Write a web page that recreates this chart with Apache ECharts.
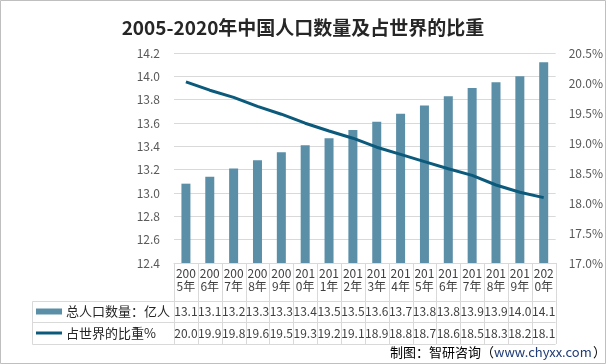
<!DOCTYPE html>
<html>
<head>
<meta charset="utf-8">
<script src="https://cdn.jsdelivr.net/npm/echarts@6/dist/echarts.min.js"></script>
<style>
html,body{margin:0;padding:0;background:#fff;}
#c{width:606px;height:364px;}
</style>
</head>
<body>
<div id="c"></div>
<script>
var years = ['2005年','2006年','2007年','2008年','2009年','2010年','2011年','2012年','2013年','2014年','2015年','2016年','2017年','2018年','2019年','2020年'];
var population = [13.08,13.14,13.21,13.28,13.35,13.41,13.47,13.54,13.61,13.68,13.75,13.83,13.90,13.95,14.00,14.12];
var worldShare = [20.02,19.88,19.76,19.61,19.48,19.33,19.20,19.08,18.93,18.81,18.69,18.57,18.46,18.30,18.18,18.09];
var seriesNames = ['总人口数量：亿人','占世界的比重%'];
var leftTicks = {min:12.4,max:14.2,interval:0.2};
var rightTicks = {min:17.0,max:20.5,interval:0.5};

var FONT = '"Noto Sans CJK SC","Noto Sans",sans-serif';
var barColor = '#5b8fa7';
var lineColor = '#0b5a7c';
var gridColor = '#d9d9d9';
var txt = '#404040';

var chart = echarts.init(document.getElementById('c'), null, {renderer:'canvas'});
var G = {left:174, right:46, top:53, bottom:101};

function rowAxis(values, offset){
  return {
    type:'category', data:years, gridIndex:0, position:'bottom', offset:offset,
    axisLine:{show:false}, axisTick:{show:false}, splitLine:{show:false},
    axisLabel:{interval:0, margin:0, fontSize:12, lineHeight:14, color:txt, fontFamily:FONT,
      formatter:function(v,i){return values[i].toFixed(1);}}
  };
}

chart.setOption({
  animation:false,
  textStyle:{fontFamily:FONT},
  title:{text:'2005-2020年中国人口数量及占世界的比重', left:'center', top:13,
    textStyle:{fontSize:19, fontWeight:'bold', color:'#262626', fontFamily:FONT}},
  grid:G,
  xAxis:[
    {type:'category', data:years, gridIndex:0,
     axisLine:{show:true, lineStyle:{color:gridColor}}, axisTick:{show:false},
     axisLabel:{interval:0, margin:4, fontSize:12, lineHeight:13, color:txt, fontFamily:FONT,
       formatter:function(v){return v.slice(0,3)+'\n'+v.slice(3);}}},
    rowAxis(population, 41),
    rowAxis(worldShare, 63)
  ],
  yAxis:[
    {type:'value', min:leftTicks.min, max:leftTicks.max, interval:leftTicks.interval,
     axisLine:{show:false}, axisTick:{show:false},
     splitLine:{lineStyle:{color:gridColor}},
     axisLabel:{margin:14, fontSize:12, color:'#595959', fontFamily:FONT,
       formatter:function(v){return v.toFixed(1);}}},
    {type:'value', min:rightTicks.min, max:rightTicks.max, interval:rightTicks.interval,
     axisLine:{show:false}, axisTick:{show:false}, splitLine:{show:false},
     axisLabel:{margin:13, fontSize:12, color:'#595959', fontFamily:FONT,
       formatter:function(v){return v.toFixed(1)+'%';}}}
  ],
  series:[
    {name:seriesNames[0], type:'bar', data:population, barWidth:9, yAxisIndex:0,
     itemStyle:{color:barColor}},
    {name:seriesNames[1], type:'line', data:worldShare, yAxisIndex:1, symbol:'none',
     lineStyle:{width:3, color:lineColor}, itemStyle:{color:lineColor}}
  ]
});

// table grid lines & legend built from axis positions
var x0 = chart.convertToPixel({xAxisIndex:0}, years[0]);
var x1 = chart.convertToPixel({xAxisIndex:0}, years[1]);
var step = x1 - x0;
var left = x0 - step/2;
var right = left + step*years.length;
var axisY = chart.convertToPixel({yAxisIndex:0}, leftTicks.min);
var rowTop1 = axisY + 38, rowTop2 = axisY + 59, rowBot = axisY + 81;
var legLeft = 32;
var els = [];
var ls = {stroke:gridColor, lineWidth:1};
for (var i=0;i<=years.length;i++){
  var xx = Math.round(left + step*i) + 0.5;
  els.push({type:'line', shape:{x1:xx,y1:axisY,x2:xx,y2:rowBot}, style:ls, silent:true});
}
[rowTop1,rowTop2,rowBot].forEach(function(yy){
  yy = Math.round(yy)+0.5;
  els.push({type:'line', shape:{x1:legLeft+0.5,y1:yy,x2:right,y2:yy}, style:ls, silent:true});
});
els.push({type:'line', shape:{x1:legLeft+0.5,y1:Math.round(rowTop1)+0.5,x2:legLeft+0.5,y2:Math.round(rowBot)+0.5}, style:ls, silent:true});
// legend keys
els.push({type:'rect', shape:{x:36,y:(rowTop1+rowTop2)/2-3,width:26,height:6}, style:{fill:barColor}, silent:true});
els.push({type:'rect', shape:{x:36,y:(rowTop2+rowBot)/2-1.5,width:26,height:3}, style:{fill:lineColor}, silent:true});
els.push({type:'text', x:66, y:(rowTop1+rowTop2)/2, style:{text:seriesNames[0], fontSize:13, fill:'#262626', fontFamily:FONT, verticalAlign:'middle'}, silent:true});
els.push({type:'text', x:66, y:(rowTop2+rowBot)/2, style:{text:seriesNames[1], fontSize:13, fill:'#262626', fontFamily:FONT, verticalAlign:'middle'}, silent:true});
// footer
els.push({type:'text', x:390, y:352, style:{text:'制图：智研咨询（', fontSize:13, fill:'#000', fontFamily:FONT, verticalAlign:'middle'}, silent:true});
els.push({type:'text', x:494, y:352, style:{text:'www.chyxx.com', fontSize:13, fill:'#1f3b73', fontFamily:FONT, verticalAlign:'middle'}, silent:true});
els.push({type:'text', x:593, y:352, style:{text:'）', fontSize:13, fill:'#000', fontFamily:FONT, verticalAlign:'middle'}, silent:true});
// outer border
els.push({type:'rect', shape:{x:0.5,y:0.5,width:605,height:363}, style:{fill:'none', stroke:'#bfbfbf', lineWidth:1}, silent:true});
chart.setOption({graphic:{elements:els}});
</script>
</body>
</html>
